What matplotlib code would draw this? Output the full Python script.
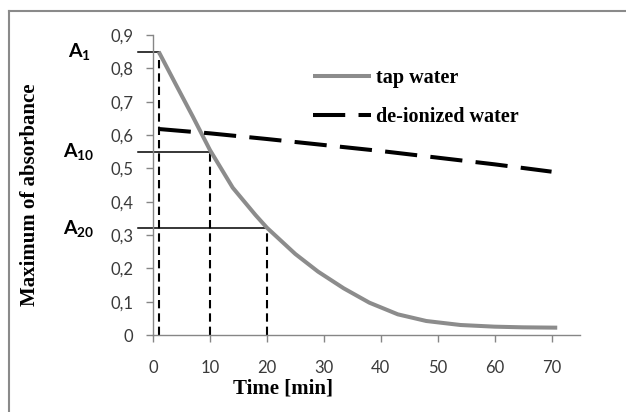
import matplotlib

matplotlib.use("Agg")
import matplotlib.pyplot as plt
from matplotlib.lines import Line2D

# data
tap_time = [1, 4, 7, 10, 14, 18, 20, 25, 29, 33.5, 38, 43, 48, 54, 60, 65, 71]
tap_abs = [0.85, 0.752, 0.655, 0.555, 0.442, 0.36, 0.322, 0.243, 0.19, 0.14, 0.097,
           0.062, 0.042, 0.03, 0.025, 0.023, 0.022]
dei_time = [1, 10, 20, 30, 40, 50, 60, 70]
dei_abs = [0.618, 0.605, 0.588, 0.57, 0.552, 0.532, 0.512, 0.49]

a_labels = [r"$\mathbf{A_{1}}$", r"$\mathbf{A_{10}}$", r"$\mathbf{A_{20}}$"]
a_times = [1, 10, 20]
a_values = [0.85, 0.55, 0.32]

x_ticks = [0, 10, 20, 30, 40, 50, 60, 70]
y_ticks = [0, 0.1, 0.2, 0.3, 0.4, 0.5, 0.6, 0.7, 0.8, 0.9]
y_tick_labels = ["0", "0,1", "0,2", "0,3", "0,4", "0,5", "0,6", "0,7", "0,8", "0,9"]

W, H = 626, 412
AXIS_GREY = "#868686"
SERIF = "Liberation Serif"

plt.rcParams["mathtext.fontset"] = "custom"
plt.rcParams["mathtext.bf"] = "Lato:bold"
plt.rcParams["mathtext.rm"] = "Lato"

fig = plt.figure(figsize=(W / 100, H / 100), dpi=100)
ax = fig.add_axes([153 / W, 1 - 335 / H, (580 - 153) / W, (335 - 35) / H])

ax.plot(tap_time, tap_abs, color="#8c8c8c", linewidth=2.9, label="tap water",
        solid_capstyle="butt", solid_joinstyle="round", zorder=3)
ax.plot(dei_time, dei_abs, color="black", linewidth=2.9, dashes=(8, 3.3),
        label="de-ionized water", zorder=3)

# A1 / A10 / A20 guide lines
for lab, t, v in zip(a_labels, a_times, a_values):
    ax.plot([-2.6, t], [v, v], color="black", linewidth=1.1, clip_on=False, zorder=2)
    ax.plot([t, t], [0, v], color="black", linewidth=1.5, dashes=(4, 2.4), zorder=2)
    ax.text(-13.0, v, lab, ha="center", va="center", fontsize=14,
            color="black", clip_on=False)

ax.set_xlim(0, 75)
ax.set_ylim(0, 0.9)
ax.set_xticks(x_ticks)
ax.set_yticks(y_ticks)
ax.set_yticklabels(y_tick_labels)
for spine in ["top", "right"]:
    ax.spines[spine].set_visible(False)
for spine in ["left", "bottom"]:
    ax.spines[spine].set_color(AXIS_GREY)
    ax.spines[spine].set_linewidth(1.0)
ax.tick_params(axis="both", direction="out", length=5, width=1.0, color=AXIS_GREY,
               labelsize=12, labelcolor="#3a3a3a")
ax.tick_params(axis="y", pad=9)
ax.tick_params(axis="x", pad=13)
for lbl in ax.get_xticklabels() + ax.get_yticklabels():
    lbl.set_family("Lato")

fig.text(283 / W, 1 - 388 / H, "Time [min]", ha="center", va="center",
         family=SERIF, fontweight="bold", fontsize=15)
fig.text(30 / W, 1 - 195 / H, "Maximum of absorbance", ha="center", va="center",
         rotation=90, family=SERIF, fontweight="bold", fontsize=15)

ax.legend(loc="upper left", bbox_to_anchor=((313 - 153) / 427, (335 - 68) / 300),
          frameon=False, handlelength=2.9, handletextpad=0.25, labelspacing=0.95,
          borderaxespad=0, borderpad=0,
          prop={"family": SERIF, "weight": "bold", "size": 14.5})

# outer chart border (only top and left edges are inside the picture)
bx, by = 9 / W, 1 - 11 / H
fig.add_artist(Line2D([bx, bx], [0, by], color="#8a8a8a", linewidth=1.5))
fig.add_artist(Line2D([bx, 1], [by, by], color="#8a8a8a", linewidth=1.5))

fig.savefig("out.png", dpi=100)
